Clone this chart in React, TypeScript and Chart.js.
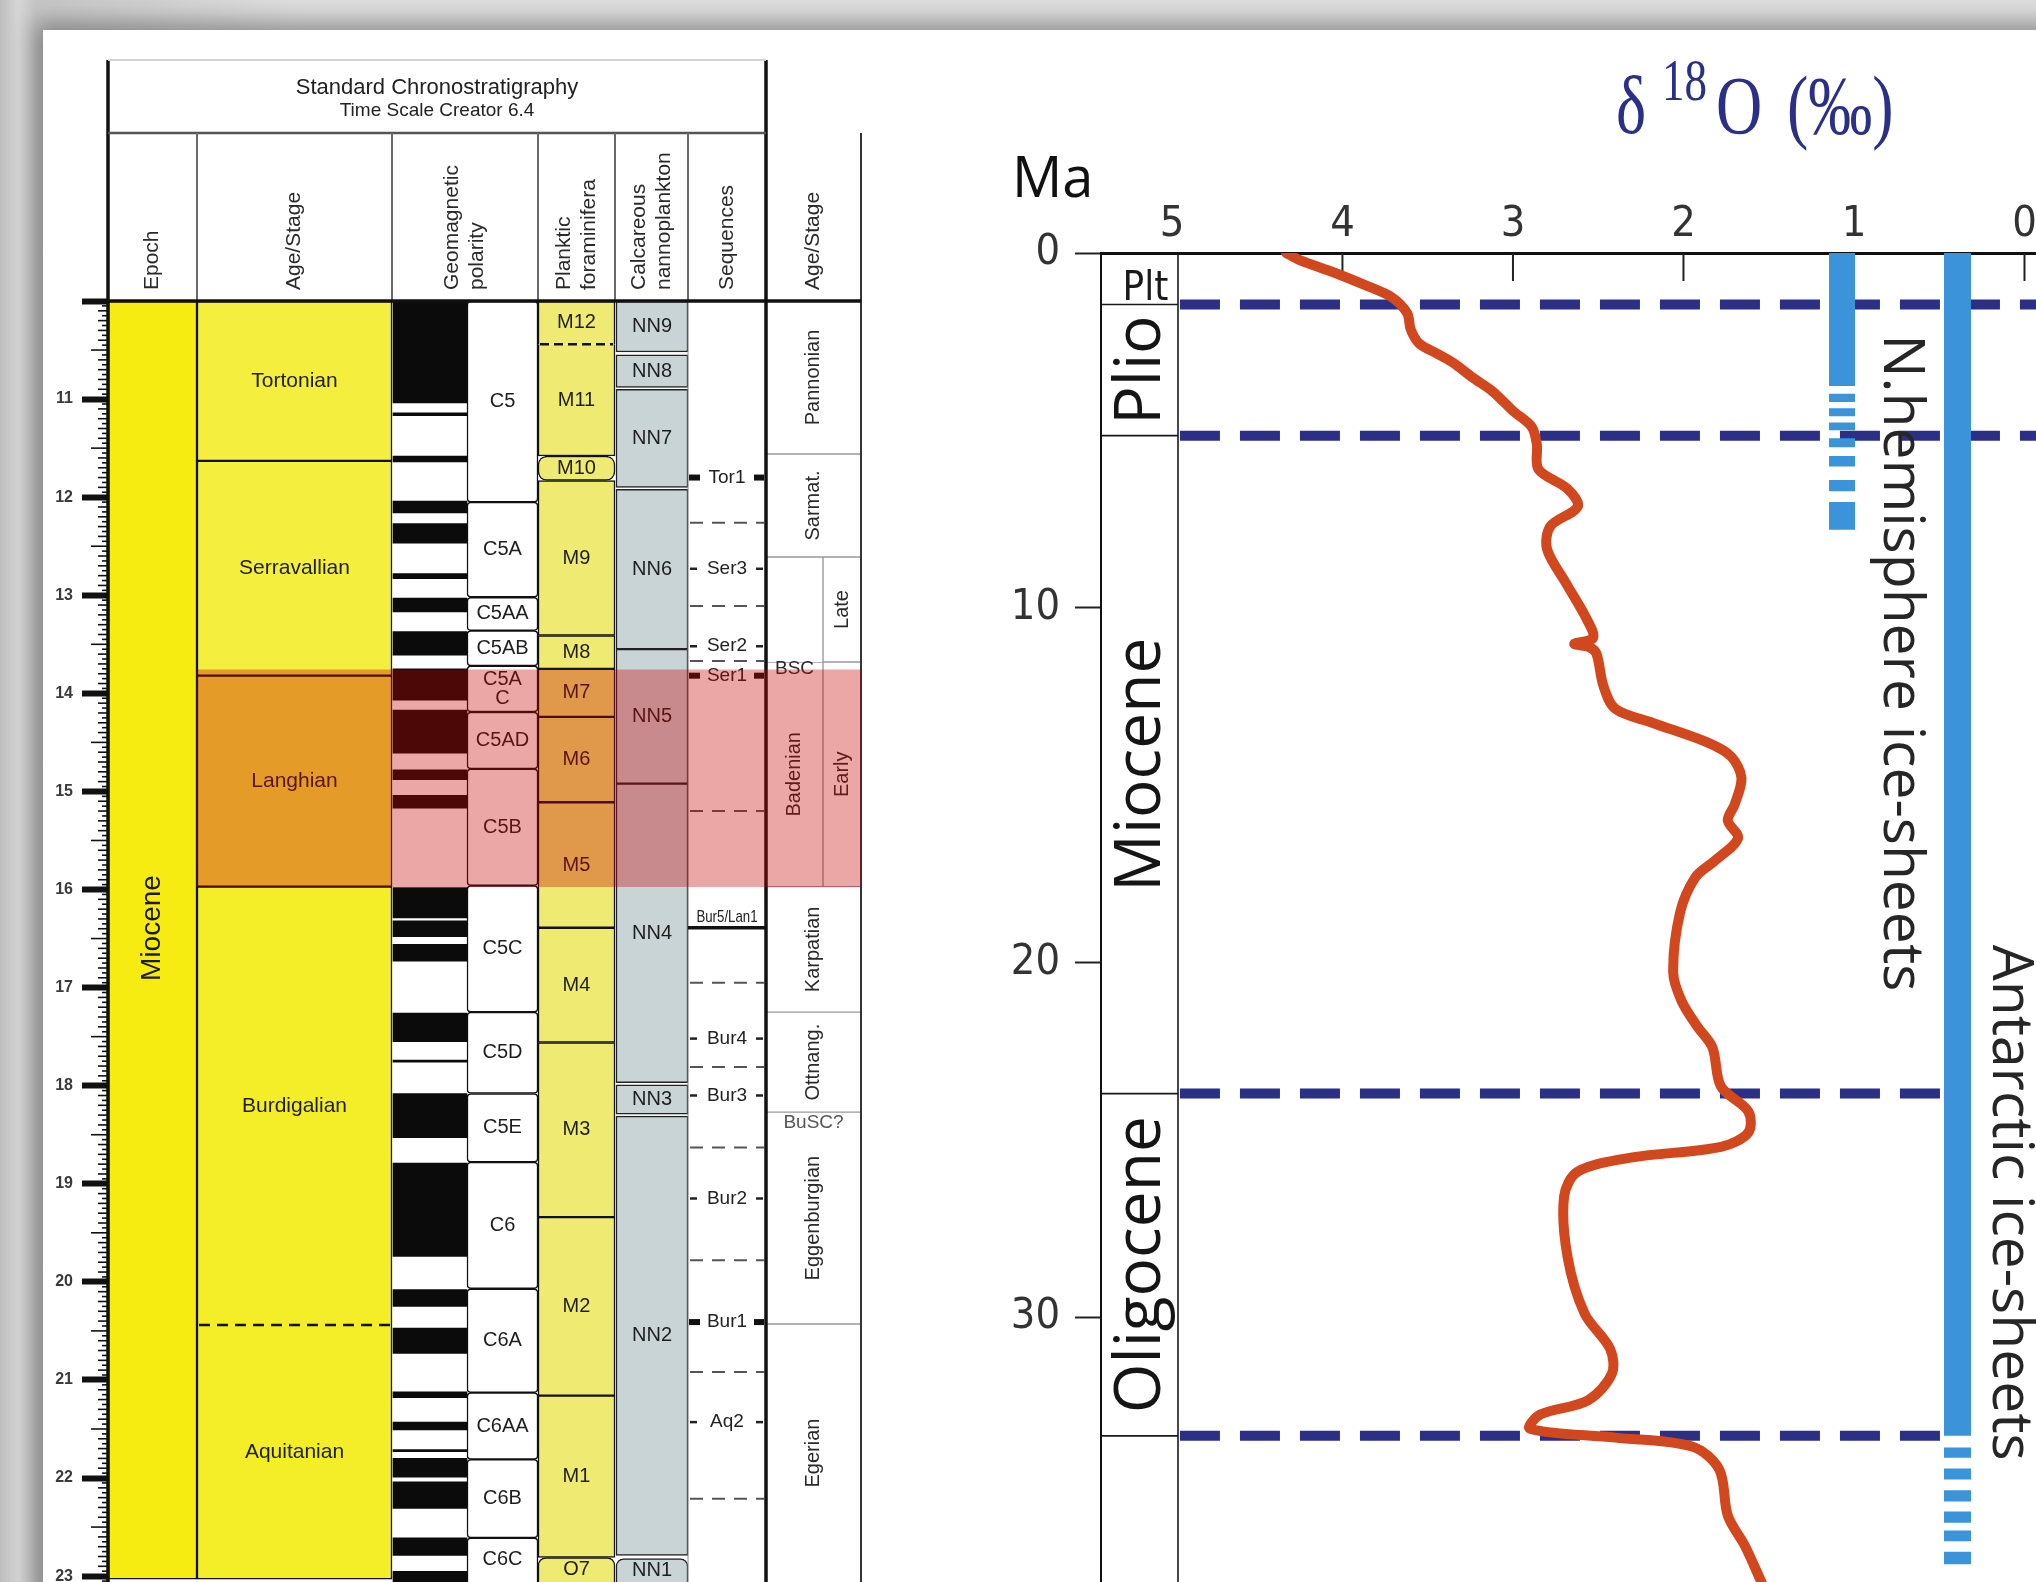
import React, { useEffect, useRef } from 'react';
import { Chart, registerables } from 'chart.js';

Chart.register(...registerables);

const PAGE_W = 2036;
const PAGE_H = 1582;

const ARIAL = "'Liberation Sans', Arial, Helvetica, sans-serif";
const NARROW = "'Liberation Sans Narrow', 'DejaVu Sans Condensed', 'Liberation Sans', sans-serif";
const OPEN = "'Open Sans', 'Noto Sans', 'DejaVu Sans', sans-serif";
const SERIF = "'Liberation Serif', 'Times New Roman', 'DejaVu Serif', serif";

/* ================= LEFT PANEL DATA (ages in Ma) ================= */
const LEFT_AGE_TOP = 10.0;
const LEFT_AGE_BOTTOM = 23.06;
const LEFT_MAJOR_STEP = 1;

const EPOCHS_LEFT = [{ name: 'Miocene', top: 10.0, base: 23.03 }];

const STAGES = [
  { name: 'Tortonian', top: 10.0, base: 11.63 },
  { name: 'Serravallian', top: 11.63, base: 13.82 },
  { name: 'Langhian', top: 13.82, base: 15.97 },
  { name: 'Burdigalian', top: 15.97, base: 20.44 },
  { name: 'Aquitanian', top: 20.44, base: 23.03 },
];
const STAGE_DASHED = [20.44];

const POLARITY_NORMAL = [
  [10.0, 11.04], [11.14, 11.17], [11.58, 11.64], [12.04, 12.16], [12.27, 12.47],
  [12.78, 12.83], [13.03, 13.17], [13.37, 13.61], [13.75, 14.07], [14.17, 14.61],
  [14.78, 14.88], [15.04, 15.17], [15.98, 16.29], [16.32, 16.48], [16.56, 16.73],
  [17.26, 17.55], [17.74, 17.76], [18.08, 18.53], [18.79, 19.74], [20.08, 20.25],
  [20.47, 20.73], [21.12, 21.18], [21.43, 21.51], [21.71, 21.73], [21.8, 21.99],
  [22.04, 22.31], [22.61, 22.79], [22.95, 23.2],
];

const CHRONS = [
  { name: 'C5', top: 10.0, base: 12.05 },
  { name: 'C5A', top: 12.05, base: 13.02 },
  { name: 'C5AA', top: 13.02, base: 13.36 },
  { name: 'C5AB', top: 13.36, base: 13.72 },
  { name: 'C5A\nC', top: 13.72, base: 14.19 },
  { name: 'C5AD', top: 14.19, base: 14.77 },
  { name: 'C5B', top: 14.77, base: 15.96 },
  { name: 'C5C', top: 15.96, base: 17.25 },
  { name: 'C5D', top: 17.25, base: 18.08 },
  { name: 'C5E', top: 18.08, base: 18.78 },
  { name: 'C6', top: 18.78, base: 20.07 },
  { name: 'C6A', top: 20.07, base: 21.13 },
  { name: 'C6AA', top: 21.13, base: 21.81 },
  { name: 'C6B', top: 21.81, base: 22.61 },
  { name: 'C6C', top: 22.61, base: 23.3 },
];

const FORAM_ZONES = [
  { name: 'M12', top: 10.0, base: 10.44 },
  { name: 'M11', top: 10.44, base: 11.58 },
  { name: 'M10', top: 11.58, base: 11.83 },
  { name: 'M9', top: 11.83, base: 13.41 },
  { name: 'M8', top: 13.41, base: 13.75 },
  { name: 'M7', top: 13.75, base: 14.24 },
  { name: 'M6', top: 14.24, base: 15.11 },
  { name: 'M5', top: 15.11, base: 16.39 },
  { name: 'M4', top: 16.39, base: 17.56 },
  { name: 'M3', top: 17.56, base: 19.34 },
  { name: 'M2', top: 19.34, base: 21.16 },
  { name: 'M1', top: 21.16, base: 22.81 },
  { name: 'O7', top: 22.81, base: 23.4 },
];
const FORAM_DASHED = [10.44];

const NANNO_ZONES = [
  { name: 'NN9', top: 10.0, base: 10.52 },
  { name: 'NN8', top: 10.55, base: 10.88 },
  { name: 'NN7', top: 10.9, base: 11.9 },
  { name: 'NN6', top: 11.92, base: 13.55 },
  { name: 'NN5', top: 13.55, base: 14.92 },
  { name: 'NN4', top: 14.92, base: 17.97 },
  { name: 'NN3', top: 17.99, base: 18.29 },
  { name: 'NN2', top: 18.31, base: 22.79 },
  { name: 'NN1', top: 22.82, base: 23.4 },
];

const SEQ_MARKERS = [
  { name: 'Tor1', age: 11.8, heavy: true },
  { name: 'Ser3', age: 12.73, heavy: false },
  { name: 'Ser2', age: 13.52, heavy: false },
  { name: 'Ser1', age: 13.82, heavy: true },
  { name: 'Bur4', age: 17.52, heavy: false },
  { name: 'Bur3', age: 18.1, heavy: false },
  { name: 'Bur2', age: 19.15, heavy: false },
  { name: 'Bur1', age: 20.41, heavy: true },
  { name: 'Aq2', age: 21.43, heavy: false },
];
const SEQ_DASHED = [12.26, 13.11, 13.67, 15.2, 16.95, 17.81, 18.63, 19.78, 20.92, 22.21];
const SEQ_BOUNDARY = { name: 'Bur5/Lan1', age: 16.39 };

const PARA_STAGES = [
  { name: 'Pannonian', top: 10.0, base: 11.56 },
  { name: 'Sarmat.', top: 11.56, base: 12.61 },
  { name: 'Karpatian', top: 15.97, base: 17.25 },
  { name: 'Ottnang.', top: 17.25, base: 18.27 },
  { name: 'Eggenburgian', top: 18.27, base: 20.43 },
  { name: 'Egerian', top: 20.43, base: 23.3 },
];
const PARA_LEFT = [
  { name: '', top: 12.61, base: 13.68 },
  { name: 'Badenian', top: 13.68, base: 15.97 },
];
const PARA_RIGHT = [
  { name: 'Late', top: 12.61, base: 13.68 },
  { name: 'Early', top: 13.68, base: 15.97 },
];
const PARA_NOTES = [
  { name: 'BSC', age: 13.75, col: 'paraL' },
  { name: 'BuSC?', age: 18.38, col: 'para' },
];
const HIGHLIGHT_BAND = { top: 13.76, base: 15.97 };

/* ================= RIGHT PANEL DATA ================= */
const R_AGE_TOP = 0;
const R_AGE_BOTTOM = 37.47;
const D18O_RIGHT_EDGE = -0.0675;
const D18O_LEFT_EDGE = 5.416;

const D18O_AGE_MA = [
  0, 0.2, 0.55, 0.9, 1.25, 1.7, 2.15, 2.55, 2.85, 3.1, 3.5, 3.9, 4.45, 4.9, 5.4,
  6.1, 6.65, 7.15, 7.7, 8.35, 9.3, 10.3, 10.85, 11.02, 11.12, 11.3, 12.2, 12.85, 13.25, 13.8,
  14.2, 14.8, 15.55, 16.0, 16.5, 17.15, 17.6, 18.6, 20.3, 21.1, 21.8, 22.4, 23.5, 24.2, 24.8,
  25.2, 25.5, 25.9, 26.6, 28.3, 29.9, 30.9, 31.6, 32.35, 32.75, 33.15, 33.4, 33.65, 34.3, 35.6,
  36.45, 37.5,
];
const D18O_PERMIL = [
  4.33, 4.25, 4.05, 3.87, 3.71, 3.62, 3.6, 3.55, 3.44, 3.35, 3.24, 3.12, 3.0, 2.89, 2.86,
  2.85, 2.68, 2.62, 2.78, 2.8, 2.69, 2.57, 2.53, 2.64, 2.55, 2.51, 2.47, 2.4, 2.18, 1.86,
  1.72, 1.66, 1.7, 1.74, 1.68, 1.82, 1.93, 2.02, 2.06, 2.01, 1.92, 1.83, 1.78, 1.62, 1.62,
  1.78, 2.3, 2.62, 2.7, 2.68, 2.58, 2.43, 2.42, 2.56, 2.84, 2.9, 2.4, 1.95, 1.79, 1.74,
  1.64, 1.54,
];

const EPOCH_BOUNDARIES_R = [1.45, 5.15, 23.7, 33.35];
const EPOCHS_RIGHT = [
  { name: 'Plt', top: 0, base: 1.45 },
  { name: 'Plio', top: 1.45, base: 5.15 },
  { name: 'Miocene', top: 5.15, base: 23.7 },
  { name: 'Oligocene', top: 23.7, base: 33.35 },
];

const NH_ICE_X = 1.07;
const NH_ICE = [
  [0, 3.75], [3.97, 4.2], [4.38, 4.6], [4.78, 5.0], [5.22, 5.48], [5.72, 6.02], [6.4, 6.72], [7.02, 7.8],
];
const ANT_ICE_X = 0.393;
const ANT_ICE = [
  [0, 33.35], [33.68, 33.97], [34.27, 34.58], [34.88, 35.2], [35.48, 35.8], [36.02, 36.32], [36.62, 36.97],
];
const DASH_FULL_END = D18O_RIGHT_EDGE;
const DASH_SHORT_END = 0.39;
const DASH_START = 4.953;

/* ================= LAYOUT / STYLE ================= */
const LP = { canvasW: 900, frameTop: 60, titleLine: 133, headBottom: 301, labelBase: 290, left: 108, right: 861 };
const COLS = {
  band: [197, 861],
  epoch: [108, 197],
  stage: [197, 392],
  polarity: [393, 467],
  chron: [467, 538],
  polHead: [392, 538],
  foram: [538, 615],
  nanno: [616, 688],
  seq: [688, 766],
  para: [766, 861],
  paraL: [766, 823],
  paraR: [823, 861],
};
const HEADERS = [
  { col: 'epoch', lines: ['Epoch'] },
  { col: 'stage', lines: ['Age/Stage'] },
  { col: 'polHead', lines: ['Geomagnetic', 'polarity'] },
  { col: 'foram', lines: ['Planktic', 'foraminifera'] },
  { col: 'nanno', lines: ['Calcareous', 'nannoplankton'] },
  { col: 'seq', lines: ['Sequences'] },
  { col: 'para', lines: ['Age/Stage'] },
];
const STAGE_FILL = {
  Tortonian: '#f4ef3e', Serravallian: '#f4ef3e', Langhian: '#f4ef3e', Burdigalian: '#f4ee28', Aquitanian: '#f4ee28',
};
const FORAM_RADIUS = { M10: 9, O7: { topLeft: 8, topRight: 8, bottomLeft: 0, bottomRight: 0 } };
const NANNO_RADIUS = { NN1: { topLeft: 8, topRight: 8, bottomLeft: 0, bottomRight: 0 } };

const R_EPOCH_COL_W = 77;
const TITLE_COLOR = '#2b2f86';
const CURVE_COLOR = '#d2481e';
const ICE_COLOR = '#3b93d9';

/* ================= HELPERS ================= */
function drawText(ctx, s, x, y, font, color, align = 'center', baseline = 'middle', rot = 0, lh = 0) {
  ctx.save();
  ctx.translate(x, y);
  if (rot) ctx.rotate(rot);
  ctx.font = font;
  ctx.fillStyle = color;
  ctx.textAlign = align;
  ctx.textBaseline = baseline;
  const lines = String(s).split('\n');
  const step = lh || parseFloat((font.match(/(\d+(\.\d+)?)px/) || [0, 16])[1]);
  lines.forEach((ln, i) => ctx.fillText(ln, 0, (i - (lines.length - 1) / 2) * step));
  ctx.restore();
}
function seg(ctx, x1, y1, x2, y2, w, color, dash = null) {
  ctx.save();
  ctx.beginPath();
  ctx.lineWidth = w;
  ctx.strokeStyle = color;
  if (dash) ctx.setLineDash(dash);
  ctx.moveTo(x1, y1);
  ctx.lineTo(x2, y2);
  ctx.stroke();
  ctx.restore();
}
function colCenter(col) {
  const [l, r] = COLS[col];
  return (l + r) / 2;
}
function sides(c, w, dashed) {
  return {
    top: dashed.includes(c.top) ? 0 : w,
    bottom: dashed.includes(c.base) ? 0 : w,
    left: w,
    right: w,
  };
}
function cellSet(cells, col, style) {
  const [l, r] = COLS[col];
  return {
    type: 'bar',
    data: cells.map((c) => ({ x: (l + r) / 2, y: [c.top, c.base] })),
    barThickness: r - l,
    stack: 'strat',
    borderSkipped: false,
    ...style,
  };
}

/* ================= LEFT CHART ================= */
const leftDecor = {
  id: 'leftDecor',
  beforeDatasetDraw(chart, args) {
    if (args.index !== 0) return;
    const { ctx, chartArea: a, scales } = chart;
    const ys = scales.y;
    const Y = (v) => ys.getPixelForValue(v);
    const mid = (c) => (Y(Math.max(c.top, LEFT_AGE_TOP)) + Y(Math.min(c.base, LEFT_AGE_BOTTOM))) / 2;

    ctx.save();
    ctx.beginPath();
    ctx.rect(0, LP.frameTop - 2, LP.canvasW, PAGE_H);
    ctx.clip();

    for (const d of STAGE_DASHED) seg(ctx, COLS.stage[0] + 2, Y(d), COLS.stage[1] - 2, Y(d), 2.5, '#111', [11, 7]);
    for (const d of FORAM_DASHED) seg(ctx, COLS.foram[0] + 2, Y(d), COLS.foram[1] - 2, Y(d), 2.5, '#111', [9, 5]);

    for (const e of EPOCHS_LEFT) drawText(ctx, e.name, colCenter('epoch'), mid(e) - 12, `28px ${ARIAL}`, '#1a1a1a', 'center', 'middle', -Math.PI / 2);
    for (const s of STAGES) drawText(ctx, s.name, colCenter('stage'), mid(s), `21px ${ARIAL}`, '#1e1e1e');
    for (const c of CHRONS) drawText(ctx, c.name, colCenter('chron'), mid(c), `20px ${ARIAL}`, '#1e1e1e', 'center', 'middle', 0, 19);
    for (const z of FORAM_ZONES) drawText(ctx, z.name, colCenter('foram'), mid(z), `20px ${ARIAL}`, '#1e1e1e');
    for (const z of NANNO_ZONES) drawText(ctx, z.name, colCenter('nanno'), mid(z), `20px ${ARIAL}`, '#1e1e1e');

    const [sl, sr] = COLS.seq;
    const scx = (sl + sr) / 2;
    seg(ctx, sl, a.top, sl, a.bottom, 1, '#8a8a8a');
    for (const d of SEQ_DASHED) seg(ctx, sl + 2, Y(d), sr - 2, Y(d), 2, '#555', [13, 9]);
    for (const m of SEQ_MARKERS) {
      const py = Y(m.age);
      ctx.fillStyle = '#111';
      if (m.heavy) {
        ctx.fillRect(sl + 1, py - 3, 11, 6);
        ctx.fillRect(sr - 12, py - 3, 10, 6);
      } else {
        seg(ctx, sl + 2, py, sl + 9, py, 2.5, '#222');
        seg(ctx, sr - 10, py, sr - 3, py, 2.5, '#222');
      }
      drawText(ctx, m.name, scx, py, `19px ${ARIAL}`, '#222');
    }
    {
      const py = Y(SEQ_BOUNDARY.age);
      seg(ctx, sl, py, sr - 1, py, 3.5, '#111');
      ctx.save();
      ctx.translate(scx, py - 10);
      ctx.scale(0.78, 1);
      ctx.font = `17px ${ARIAL}`;
      ctx.fillStyle = '#222';
      ctx.textAlign = 'center';
      ctx.textBaseline = 'middle';
      ctx.fillText(SEQ_BOUNDARY.name, 0, 0);
      ctx.restore();
    }

    for (const p of PARA_STAGES) drawText(ctx, p.name, colCenter('para'), mid(p), `20px ${ARIAL}`, '#2a2a2a', 'center', 'middle', -Math.PI / 2);
    for (const p of PARA_LEFT) if (p.name) drawText(ctx, p.name, colCenter('paraL'), mid(p), `20px ${ARIAL}`, '#2a2a2a', 'center', 'middle', -Math.PI / 2);
    for (const p of PARA_RIGHT) drawText(ctx, p.name, colCenter('paraR'), mid(p), `20px ${ARIAL}`, '#2a2a2a', 'center', 'middle', -Math.PI / 2);
    for (const n of PARA_NOTES) drawText(ctx, n.name, colCenter(n.col), Y(n.age), `19px ${ARIAL}`, n.name === 'BSC' ? '#2a2a2a' : '#555');

    seg(ctx, LP.left, LP.frameTop, LP.left, PAGE_H, 3.5, '#111');
    seg(ctx, COLS.seq[1], LP.frameTop, COLS.seq[1], PAGE_H, 3.5, '#111');
    seg(ctx, LP.right, LP.titleLine, LP.right, PAGE_H, 2, '#333');
    ctx.restore();
  },
  afterDraw(chart) {
    const { ctx, scales } = chart;
    const ys = scales.y;
    ctx.save();
    for (let k = 0; k <= Math.round((LEFT_AGE_BOTTOM - LEFT_AGE_TOP) / 0.05); k++) {
      const v = LEFT_AGE_TOP + k * 0.05;
      const r10 = Math.round(v * 10) / 10;
      if (Math.abs(v - Math.round(v)) < 1e-6) continue;
      let len = 6;
      if (Math.abs(v - r10) < 1e-6) len = 10;
      if (Math.abs(v * 2 - Math.round(v * 2)) < 1e-6) len = 17;
      const py = ys.getPixelForValue(v);
      seg(ctx, LP.left - len, py, LP.left, py, 1.6, '#111');
    }
    seg(ctx, LP.left, LP.frameTop, COLS.seq[1], LP.frameTop, 2, '#d4d4d4');
    seg(ctx, LP.left, LP.titleLine, COLS.seq[1], LP.titleLine, 2.5, '#555');
    for (const x of [COLS.epoch[1], COLS.stage[1], COLS.foram[0], COLS.foram[1], COLS.nanno[1]]) {
      seg(ctx, x, LP.titleLine, x, LP.headBottom, 2, '#6a6a6a');
    }
    seg(ctx, LP.left - 2, LP.headBottom, LP.right, LP.headBottom, 3.5, '#111');
    const tcx = (LP.left + COLS.seq[1]) / 2;
    drawText(ctx, 'Standard Chronostratigraphy', tcx, 94, `22px ${ARIAL}`, '#222', 'center', 'alphabetic');
    drawText(ctx, 'Time Scale Creator 6.4', tcx, 116, `19px ${ARIAL}`, '#222', 'center', 'alphabetic');
    for (const h of HEADERS) {
      const cx = colCenter(h.col);
      const n = h.lines.length;
      h.lines.forEach((ln, i) => {
        const off = (i - (n - 1) / 2) * 25;
        drawText(ctx, ln, cx + off, LP.labelBase, `21px ${ARIAL}`, '#2a2a2a', 'left', 'middle', -Math.PI / 2);
      });
    }
    ctx.restore();
  },
};

function leftConfig() {
  const datasets = [
    cellSet([HIGHLIGHT_BAND], 'band', { backgroundColor: 'rgba(198,0,0,0.35)', borderWidth: 0 }),
    cellSet(EPOCHS_LEFT, 'epoch', { backgroundColor: '#f6ec12', borderColor: '#111', borderWidth: 1.5 }),
    cellSet(STAGES, 'stage', {
      backgroundColor: STAGES.map((s) => STAGE_FILL[s.name]),
      borderColor: '#111',
      borderWidth: STAGES.map((s) => sides(s, 1.5, STAGE_DASHED)),
    }),
    cellSet(POLARITY_NORMAL.map(([t, b]) => ({ top: t, base: b })), 'polarity', { backgroundColor: '#0b0b0b', borderWidth: 0 }),
    cellSet(CHRONS, 'chron', { backgroundColor: '#ffffff', borderColor: '#111', borderWidth: 1.5, borderRadius: 4 }),
    cellSet(FORAM_ZONES, 'foram', {
      backgroundColor: '#efeb72',
      borderColor: '#111',
      borderWidth: FORAM_ZONES.map((z) => sides(z, 1.5, FORAM_DASHED)),
      borderRadius: FORAM_ZONES.map((z) => FORAM_RADIUS[z.name] || 0),
    }),
    cellSet(NANNO_ZONES, 'nanno', {
      backgroundColor: '#c9d4d7',
      borderColor: '#222',
      borderWidth: 1.5,
      borderRadius: NANNO_ZONES.map((z) => NANNO_RADIUS[z.name] || 0),
    }),
    cellSet(PARA_STAGES, 'para', { backgroundColor: '#ffffff', borderColor: '#9a9a9a', borderWidth: 1 }),
    cellSet(PARA_LEFT, 'paraL', { backgroundColor: '#ffffff', borderColor: '#9a9a9a', borderWidth: PARA_LEFT.map((p) => (p.name ? 1 : { top: 1, left: 1, right: 1, bottom: 0 })) }),
    cellSet(PARA_RIGHT, 'paraR', { backgroundColor: '#ffffff', borderColor: '#9a9a9a', borderWidth: 1 }),
  ];
  return {
    type: 'bar',
    data: { datasets },
    options: {
      responsive: false,
      animation: false,
      events: [],
      layout: { padding: { top: LP.headBottom, right: LP.canvasW - LP.right, bottom: 0, left: 0 } },
      plugins: { legend: { display: false }, tooltip: { enabled: false } },
      scales: {
        x: { type: 'linear', display: false, min: LP.left, max: LP.right, offset: false, grid: { display: false } },
        y: {
          type: 'linear',
          reverse: true,
          stacked: false,
          min: LEFT_AGE_TOP,
          max: LEFT_AGE_BOTTOM,
          position: 'left',
          border: { display: false },
          grid: { drawOnChartArea: false, drawTicks: true, tickLength: 26, tickWidth: 6, tickColor: '#111' },
          ticks: {
            stepSize: LEFT_MAJOR_STEP,
            includeBounds: false,
            autoSkip: false,
            padding: 9,
            color: '#3a3a3a',
            font: { family: ARIAL, size: 16, weight: 'bold' },
            callback: (v) => (v === LEFT_AGE_TOP ? '' : String(v)),
          },
          afterFit: (s) => {
            s.width = LP.left;
            s.paddingTop = 0;
            s.paddingBottom = 0;
          },
        },
      },
    },
    plugins: [leftDecor],
  };
}

/* ================= RIGHT CHART ================= */
const rightDecor = {
  id: 'rightDecor',
  beforeDatasetsDraw(chart) {
    const { ctx, chartArea: a, scales } = chart;
    const xs = scales.x;
    const ys = scales.y;
    const colR = a.left + R_EPOCH_COL_W;
    ctx.save();
    seg(ctx, colR, a.top, colR, a.bottom, 1.6, '#1a1a1a');
    for (const b of EPOCH_BOUNDARIES_R) {
      const py = ys.getPixelForValue(b);
      seg(ctx, a.left, py, colR, py, 1.6, '#1a1a1a');
    }
    for (const t of xs.ticks) {
      const px = xs.getPixelForValue(t.value);
      if (px <= colR + 3) continue;
      seg(ctx, px, a.top, px, a.top + 28, 2, '#222');
    }
    const cx = (a.left + colR) / 2;
    for (const e of EPOCHS_RIGHT) {
      const t = ys.getPixelForValue(e.top);
      const b = ys.getPixelForValue(Math.min(e.base, R_AGE_BOTTOM));
      if (e.name === 'Plt') {
        drawText(ctx, e.name, cx + 6, b - 4, `40px ${NARROW}`, '#1a1a1a', 'center', 'alphabetic');
      } else {
        drawText(ctx, e.name, cx + 2, (t + b) / 2, `64px ${OPEN}`, '#151515', 'center', 'middle', -Math.PI / 2);
      }
    }
    ctx.restore();
  },
  afterDraw(chart) {
    const { ctx, scales } = chart;
    const xs = scales.x;
    const ys = scales.y;
    const stretch = (s, x, y, font) => {
      ctx.save();
      ctx.translate(x, y);
      ctx.scale(1, 1.3);
      ctx.font = font;
      ctx.fillStyle = TITLE_COLOR;
      ctx.textAlign = 'left';
      ctx.textBaseline = 'alphabetic';
      ctx.fillText(s, 0, 0);
      ctx.restore();
    };
    stretch('δ', 636, 133, `64px ${SERIF}`);
    stretch('18', 682, 100, `45px ${SERIF}`);
    stretch('O', 736, 133, `64px ${SERIF}`);
    stretch('(‰)', 807, 133, `64px ${SERIF}`);
    drawText(ctx, 'Ma', 32, 197, `56px ${OPEN}`, '#111', 'left', 'alphabetic');
    drawText(ctx, 'N.hemisphere ice-sheets', xs.getPixelForValue(NH_ICE_X) + 58, ys.getPixelForValue(2.3), `57px ${OPEN}`, '#262626', 'left', 'middle', Math.PI / 2);
    drawText(ctx, 'Antarctic ice-sheets', xs.getPixelForValue(ANT_ICE_X) + 52, ys.getPixelForValue(19.5), `57px ${OPEN}`, '#262626', 'left', 'middle', Math.PI / 2);
  },
};

function iceData(x, segs) {
  const pts = [];
  segs.forEach(([t, b], i) => {
    if (i > 0) pts.push({ x, y: null });
    pts.push({ x, y: t });
    pts.push({ x, y: b });
  });
  return pts;
}

function rightConfig() {
  const curve = D18O_AGE_MA.map((age, i) => ({ x: D18O_PERMIL[i], y: age }));
  const dashSets = EPOCH_BOUNDARIES_R.map((age, i) => ({
    type: 'line',
    data: [
      { x: DASH_START, y: age },
      { x: i < 2 ? DASH_FULL_END : DASH_SHORT_END, y: age },
    ],
    borderColor: TITLE_COLOR,
    borderWidth: 10,
    borderDash: [40, 20],
    borderCapStyle: 'butt',
    pointRadius: 0,
    fill: false,
  }));
  const datasets = [
    {
      type: 'line',
      data: curve,
      borderColor: CURVE_COLOR,
      borderWidth: 10,
      tension: 0.32,
      pointRadius: 0,
      fill: false,
      borderCapStyle: 'round',
      borderJoinStyle: 'round',
    },
    {
      type: 'line',
      data: iceData(NH_ICE_X, NH_ICE),
      borderColor: ICE_COLOR,
      borderWidth: 26,
      borderCapStyle: 'butt',
      pointRadius: 0,
      spanGaps: false,
      fill: false,
    },
    {
      type: 'line',
      data: iceData(ANT_ICE_X, ANT_ICE),
      borderColor: ICE_COLOR,
      borderWidth: 27,
      borderCapStyle: 'butt',
      pointRadius: 0,
      spanGaps: false,
      fill: false,
    },
    ...dashSets,
  ];
  return {
    type: 'line',
    data: { datasets },
    options: {
      responsive: false,
      animation: false,
      events: [],
      layout: { padding: 0 },
      plugins: { legend: { display: false }, tooltip: { enabled: false } },
      scales: {
        x: {
          type: 'linear',
          position: 'top',
          min: D18O_RIGHT_EDGE,
          max: D18O_LEFT_EDGE,
          reverse: true,
          offset: false,
          grid: { display: false, drawTicks: false },
          border: { display: true, width: 3, color: '#111' },
          ticks: {
            stepSize: 1,
            includeBounds: false,
            padding: 2,
            color: '#333',
            font: { family: NARROW, size: 43 },
            callback: (v) => String(v),
          },
          afterFit: (s) => {
            s.height = 253;
            s.paddingLeft = 0;
            s.paddingRight = 0;
          },
        },
        y: {
          type: 'linear',
          position: 'left',
          min: R_AGE_TOP,
          max: R_AGE_BOTTOM,
          reverse: true,
          grid: { drawOnChartArea: false, drawTicks: true, tickLength: 26, tickWidth: 2, tickColor: '#222' },
          border: { display: true, width: 2, color: '#111' },
          ticks: {
            stepSize: 10,
            includeBounds: false,
            padding: 15,
            color: '#333',
            font: { family: NARROW, size: 43 },
          },
          afterFit: (s) => {
            s.width = 121;
            s.paddingTop = 0;
            s.paddingBottom = 0;
          },
        },
      },
    },
    plugins: [rightDecor],
  };
}

export default function App() {
  const leftRef = useRef(null);
  const rightRef = useRef(null);
  useEffect(() => {
    const c1 = new Chart(leftRef.current, leftConfig());
    const c2 = new Chart(rightRef.current, rightConfig());
    return () => {
      c1.destroy();
      c2.destroy();
    };
  }, []);
  return (
    <div style={{ position: 'fixed', left: 0, top: 0, width: PAGE_W, height: PAGE_H, overflow: 'hidden', background: 'linear-gradient(90deg, #bdbdbd 0px, #d6d6d6 18px, #c6c6c6 36px, #dedede 300px)' }}>
      <div style={{ position: 'absolute', left: 43, top: 30, width: PAGE_W, height: PAGE_H, background: '#fff', boxShadow: '0 0 22px 8px rgba(0,0,0,0.35)' }} />
      <canvas ref={leftRef} width={LP.canvasW} height={PAGE_H} style={{ position: 'absolute', left: 0, top: 0, width: LP.canvasW, height: PAGE_H }} />
      <canvas ref={rightRef} width={1056} height={PAGE_H} style={{ position: 'absolute', left: 980, top: 0, width: 1056, height: PAGE_H }} />
    </div>
  );
}
